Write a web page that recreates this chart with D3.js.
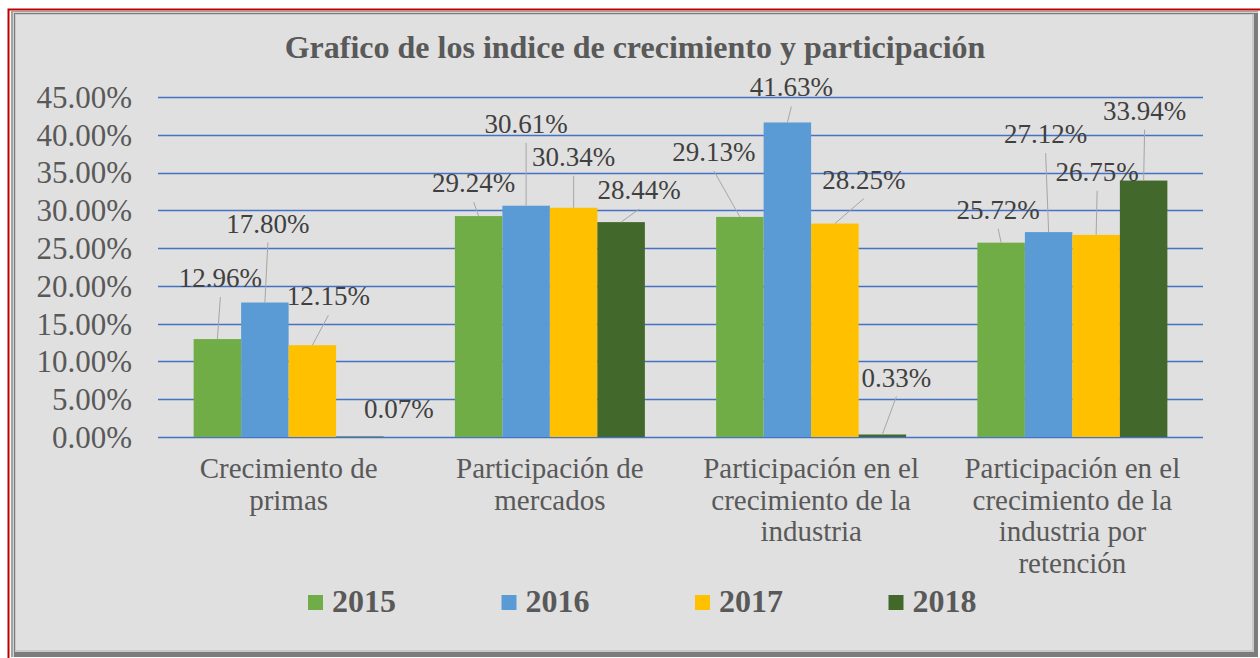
<!DOCTYPE html>
<html>
<head>
<meta charset="utf-8">
<script src="https://cdn.jsdelivr.net/npm/d3@7"></script>
<style>
  html, body { margin: 0; padding: 0; background: #fff; }
  svg { display: block; }
</style>
</head>
<body>
<div id="chart"></div>
<script>
// Data
const categories = [
    ['Crecimiento de', 'primas'],
    ['Participación de', 'mercados'],
    ['Participación en el', 'crecimiento de la', 'industria'],
    ['Participación en el', 'crecimiento de la', 'industria por', 'retención']
];
const years = ['2015', '2016', '2017', '2018'];
const values2015 = [12.96, 29.24, 29.13, 25.72];
const values2016 = [17.80, 30.61, 41.63, 27.12];
const values2017 = [12.15, 30.34, 28.25, 26.75];
const values2018 = [0.07, 28.44, 0.33, 33.94];
const yTicks = [0, 5, 10, 15, 20, 25, 30, 35, 40, 45];
const title = 'Grafico de los indice de crecimiento y participación';

// label placement (dragged labels in the original), px offsets from bar top-center
const labelOffsets = [
    [[3, -52], [3, -70], [16, -40], [39, -18]],
    [[-5, -24], [0, -73], [0, -42], [18, -23]],
    [[-26, -56], [4, -26], [29, -35], [14, -48]],
    [[-3, -24], [-3, -89], [1, -54], [1, -61]]
];

const series = [values2015, values2016, values2017, values2018];
const colors = ['#70AD47', '#5B9BD5', '#FFC000', '#43682B'];

const W = 1260, H = 658;
const FONT = "'Liberation Serif'";
const TXT = '#595959';

const svg = d3.select('#chart').append('svg')
    .attr('width', W)
    .attr('height', H);

// Frame: red outline + bevelled grey panel
svg.append('rect').attr('x', 0).attr('y', 0).attr('width', W).attr('height', H).attr('fill', '#fff');
svg.append('rect').attr('x', 8.5).attr('y', 9.5).attr('width', W).attr('height', H)
    .attr('fill', '#fbfbfb').attr('stroke', '#C00000').attr('stroke-width', 2);
svg.append('rect').attr('x', 11).attr('y', 11).attr('width', 1247).attr('height', 646).attr('fill', '#a3a3a3');
svg.append('rect').attr('x', 13).attr('y', 12).attr('width', 1245).attr('height', 645).attr('fill', '#d2d2d2');
svg.append('rect').attr('x', 14).attr('y', 13).attr('width', 1244).attr('height', 644).attr('fill', '#7c7c7c');
svg.append('rect').attr('x', 15).attr('y', 14).attr('width', 1239).attr('height', 638).attr('fill', '#c9c9c9');
svg.append('rect').attr('x', 16).attr('y', 15).attr('width', 1236).attr('height', 635).attr('fill', '#e0e0e0');

// Scales
const plot = { left: 158, right: 1203, top: 97, bottom: 437 };
const x0 = d3.scaleBand().domain(d3.range(categories.length)).range([plot.left, plot.right]);
const x1 = d3.scaleBand().domain(years).range([0, x0.bandwidth()]).paddingOuter(0.75);
const y = d3.scaleLinear().domain([0, 45]).range([plot.bottom, plot.top]);

// Gridlines
svg.append('g').selectAll('line')
    .data(yTicks)
    .join('line')
    .attr('x1', plot.left).attr('x2', plot.right)
    .attr('y1', d => Math.round(y(d)) + 0.5).attr('y2', d => Math.round(y(d)) + 0.5)
    .attr('stroke', '#4472C4').attr('stroke-width', 1.3);

// Y axis labels
svg.append('g').selectAll('text')
    .data(yTicks)
    .join('text')
    .attr('x', 132)
    .attr('y', d => y(d))
    .attr('dy', '0.35em')
    .attr('text-anchor', 'end')
    .style('font-family', FONT).style('font-size', '31px').attr('fill', TXT)
    .text(d => d3.format('.2f')(d) + '%');

// Bars
const barData = [];
categories.forEach((c, i) => {
    years.forEach((yr, j) => {
        barData.push({ cat: i, year: yr, s: j, value: series[j][i], off: labelOffsets[i][j] });
    });
});

svg.append('g').selectAll('rect')
    .data(barData)
    .join('rect')
    .attr('x', d => x0(d.cat) + x1(d.year))
    .attr('y', d => y(d.value))
    .attr('width', x1.bandwidth())
    .attr('height', d => y(0) - y(d.value))
    .attr('fill', d => colors[d.s]);

// Leader lines + data labels
const lab = svg.append('g');
barData.forEach(d => {
    const bx = x0(d.cat) + x1(d.year) + x1.bandwidth() / 2;
    const by = y(d.value);
    const lx = bx + d.off[0];
    const ly = by + d.off[1];
    if (by - (ly + 9) > 12) {
        lab.append('line')
            .attr('x1', lx).attr('y1', ly + 10)
            .attr('x2', bx).attr('y2', by)
            .attr('stroke', '#a6a6a6').attr('stroke-width', 1);
    }
    lab.append('text')
        .attr('x', lx).attr('y', ly)
        .attr('text-anchor', 'middle')
        .style('font-family', FONT).style('font-size', '27px').attr('fill', '#404040')
        .text(d3.format('.2f')(d.value) + '%');
});

// Category labels
const catG = svg.append('g');
categories.forEach((lines, i) => {
    const t = catG.append('text')
        .attr('text-anchor', 'middle')
        .style('font-family', FONT).style('font-size', '29px').attr('fill', TXT);
    lines.forEach((ln, k) => {
        t.append('tspan')
            .attr('x', x0(i) + x0.bandwidth() / 2)
            .attr('y', 478 + k * 31.7)
            .text(ln);
    });
});

// Title
svg.append('text')
    .attr('x', 635).attr('y', 58)
    .attr('text-anchor', 'middle')
    .style('font-family', FONT).style('font-size', '32px').style('font-weight', 'bold').attr('fill', TXT)
    .text(title);

// Legend
const legend = svg.append('g').selectAll('g')
    .data(years)
    .join('g')
    .attr('transform', (d, i) => `translate(${308 + i * 193.5},595)`);
legend.append('rect')
    .attr('width', 15).attr('height', 15)
    .attr('fill', (d, i) => colors[i]);
legend.append('text')
    .attr('x', 24).attr('y', 17)
    .style('font-family', FONT).style('font-size', '32px').style('font-weight', 'bold').attr('fill', TXT)
    .text(d => d);
</script>
</body>
</html>
